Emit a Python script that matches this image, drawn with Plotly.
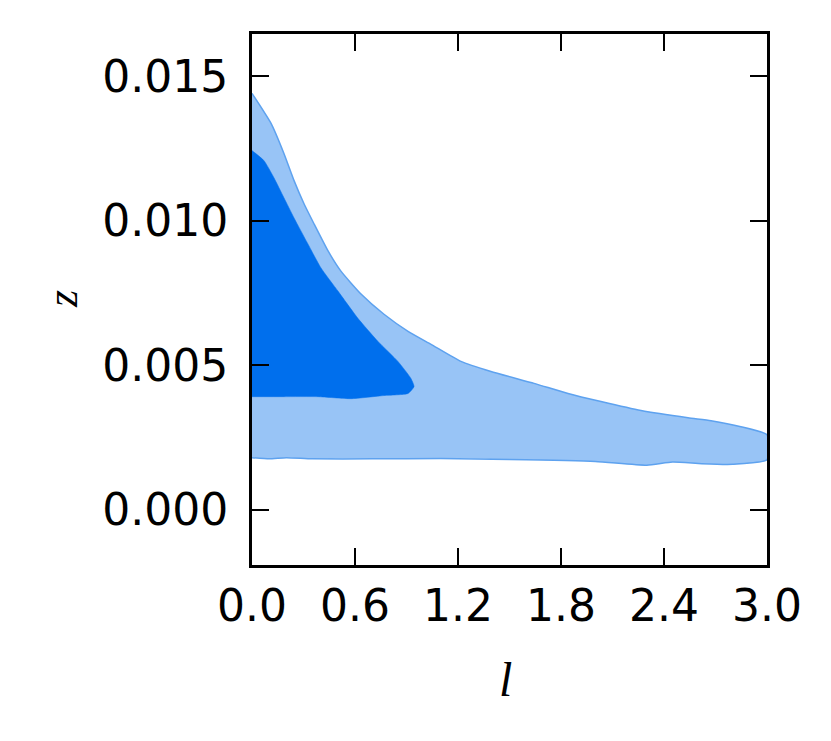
import plotly.graph_objects as go

# outer (95%) contour, upper edge
outer_top_l = [0.0, 0.111, 0.186, 0.245, 0.303, 0.361, 0.443, 0.518, 0.635, 0.769, 0.909, 1.043,
               1.217, 1.392, 1.643, 1.841, 2.033, 2.266, 2.540, 2.674, 2.848, 3.0]
outer_top_z = [0.01441, 0.01337, 0.01233, 0.01139, 0.01059, 0.00990, 0.00896, 0.00826, 0.00747, 0.00677, 0.00618, 0.00573,
               0.00514, 0.00479, 0.00438, 0.00403, 0.00375, 0.00344, 0.00319, 0.00309, 0.00288, 0.0026]

# outer contour, lower edge
outer_bot_l = [0.0, 0.1, 0.2, 0.35, 0.7, 1.1, 1.5, 2.0, 2.3, 2.45, 2.62, 2.8, 3.0]
outer_bot_z = [0.00181, 0.00177, 0.00181, 0.00177, 0.00177, 0.00178, 0.00175, 0.00168, 0.00155, 0.00166, 0.00160, 0.00158, 0.00174]

# inner (68%) contour
inner_l = [0.0, 0.070, 0.128, 0.186, 0.245, 0.326, 0.402, 0.501, 0.617, 0.734, 0.850, 0.926, 0.944,
           0.909, 0.769, 0.577, 0.384, 0.186, 0.0]
inner_z = [0.01243, 0.01208, 0.01149, 0.01080, 0.01010, 0.00920, 0.00837, 0.00757, 0.00663, 0.00583, 0.00514, 0.00455, 0.00427,
           0.00403, 0.00396, 0.00385, 0.00392, 0.00392, 0.00392]

x_ticks = [0.0, 0.6, 1.2, 1.8, 2.4, 3.0]
y_ticks = [0.0, 0.005, 0.010, 0.015]

fig = go.Figure()

fig.add_trace(go.Scatter(
    x=outer_top_l + outer_bot_l[::-1],
    y=outer_top_z + outer_bot_z[::-1],
    fill='toself',
    fillcolor='#98c4f6',
    mode='lines',
    line=dict(color='#5ea2ef', width=1.5, shape='spline', smoothing=0.5),
    hoverinfo='skip'
))

fig.add_trace(go.Scatter(
    x=inner_l,
    y=inner_z,
    fill='toself',
    fillcolor='#006fed',
    mode='lines',
    line=dict(color='#006fed', width=0.5, shape='spline', smoothing=0.5),
    hoverinfo='skip'
))

axis_style = dict(
    showgrid=False, zeroline=False,
    showline=True, linecolor='black', linewidth=3, mirror='ticks',
    ticks='inside', ticklen=17, tickwidth=2, tickcolor='black',
    tickfont=dict(family='DejaVu Sans', size=44, color='black'),
)

fig.update_xaxes(range=[0, 3.0], tickvals=x_ticks, ticktext=[f'{v:.1f}' for v in x_ticks],
                 ticklabelstandoff=0, **axis_style)
fig.update_yaxes(range=[-0.0019, 0.01646], tickvals=y_ticks, ticktext=[f'{v:.3f}' for v in y_ticks],
                 ticklabelstandoff=12, **axis_style)

fig.add_annotation(text='<i>l</i>', xref='paper', yref='paper', x=0.493, y=-0.216,
                   showarrow=False, font=dict(family='Liberation Serif', size=48, color='black'),
                   xanchor='center', yanchor='middle')
fig.add_annotation(text='<i>z</i>', xref='paper', yref='paper', x=-0.367, y=0.501, textangle=-90,
                   showarrow=False, font=dict(family='Liberation Serif', size=44, color='black'),
                   xanchor='center', yanchor='middle')

# page body adds ~7px offset, so margins are shifted to compensate
fig.update_layout(
    width=831, height=741,
    margin=dict(l=244, r=72, t=26, b=184),
    plot_bgcolor='white', paper_bgcolor='white',
    showlegend=False
)

fig.write_html("out.html")
